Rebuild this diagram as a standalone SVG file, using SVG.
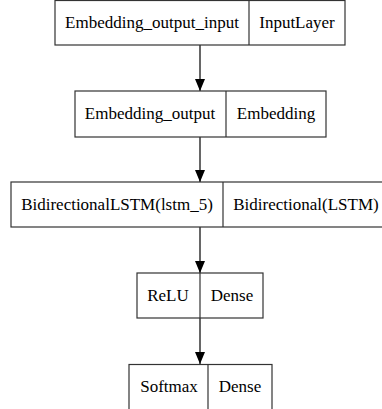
<svg xmlns="http://www.w3.org/2000/svg" width="382" height="409" viewBox="0 0 382 409">
  <defs>
    <marker id="arrow" markerWidth="12" markerHeight="10" refX="12" refY="5" orient="auto" markerUnits="userSpaceOnUse" viewBox="0 0 12 10">
      <path d="M0,0 L12,5 L0,10 Z" fill="#000"/>
    </marker>
  </defs>
  <style>
    .box { fill: #fff; stroke: #333; stroke-width: 1.2; }
    .div { stroke: #333; stroke-width: 1.2; }
    .lbl { font-family: "Liberation Serif", "Times New Roman", serif; font-size: 17px; fill: #000; text-anchor: middle; }
    .edge { stroke: #000; stroke-width: 1.2; fill: none; }
  </style>
  <rect width="382" height="409" fill="#fff"/>

  <g id="edges">
    <line class="edge" x1="200" y1="45" x2="200" y2="91" marker-end="url(#arrow)"/>
    <line class="edge" x1="200" y1="137" x2="200" y2="182" marker-end="url(#arrow)"/>
    <line class="edge" x1="200" y1="227" x2="200" y2="273" marker-end="url(#arrow)"/>
    <line class="edge" x1="200" y1="318" x2="200" y2="364" marker-end="url(#arrow)"/>
  </g>

  <g id="embedding_output_input">
    <rect class="box" x="55" y="0.5" width="290" height="44.5"/>
    <line class="div" x1="249" y1="0.5" x2="249" y2="45"/>
    <text class="lbl" x="152" y="28">Embedding_output_input</text>
    <text class="lbl" x="297" y="28">InputLayer</text>
  </g>

  <g id="embedding_output">
    <rect class="box" x="75" y="91" width="251" height="46"/>
    <line class="div" x1="226" y1="91" x2="226" y2="137"/>
    <text class="lbl" x="150" y="119">Embedding_output</text>
    <text class="lbl" x="276" y="119">Embedding</text>
  </g>

  <g id="bidirectional_lstm">
    <rect class="box" x="11" y="182" width="380" height="45"/>
    <line class="div" x1="223" y1="182" x2="223" y2="227"/>
    <text class="lbl" x="117" y="210">BidirectionalLSTM(lstm_5)</text>
    <text class="lbl" x="306" y="210">Bidirectional(LSTM)</text>
  </g>

  <g id="relu">
    <rect class="box" x="137" y="273" width="126" height="45"/>
    <line class="div" x1="200" y1="273" x2="200" y2="318"/>
    <text class="lbl" x="168" y="301">ReLU</text>
    <text class="lbl" x="232" y="301">Dense</text>
  </g>

  <g id="softmax">
    <rect class="box" x="129" y="364.5" width="143" height="50"/>
    <line class="div" x1="208" y1="364.5" x2="208" y2="414"/>
    <text class="lbl" x="169" y="392">Softmax</text>
    <text class="lbl" x="240" y="392">Dense</text>
  </g>
</svg>
